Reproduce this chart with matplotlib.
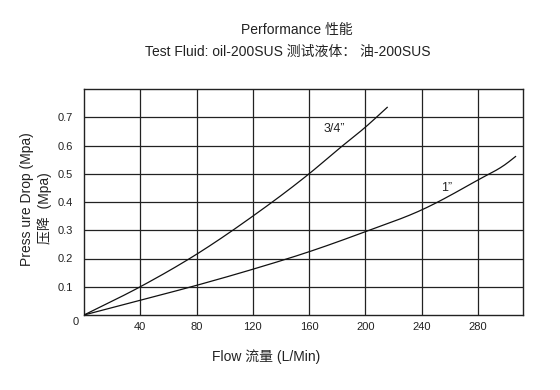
import matplotlib.pyplot as plt
import numpy as np

plt.rcParams['font.family'] = ['Liberation Sans', 'Noto Sans CJK SC', 'DejaVu Sans']
plt.rcParams['text.color'] = '#222222'
plt.rcParams['xtick.color'] = '#222222'
plt.rcParams['ytick.color'] = '#222222'

# 3/4" curve
flow_34 = [0, 40, 80, 120, 160, 183, 200, 215.5]
drop_34 = [0, 0.10, 0.215, 0.35, 0.50, 0.596, 0.665, 0.735]

# 1" curve
flow_1 = [0, 40, 80, 120, 160, 200, 240, 280, 300, 306.7]
drop_1 = [0, 0.052, 0.105, 0.162, 0.224, 0.295, 0.372, 0.478, 0.535, 0.561]

xticks = [40, 80, 120, 160, 200, 240, 280]
yticks = [0.1, 0.2, 0.3, 0.4, 0.5, 0.6, 0.7]


def smooth(x, y, n=200):
    # monotone piecewise cubic through the read points
    x = np.asarray(x, float)
    y = np.asarray(y, float)
    h = np.diff(x)
    d = np.diff(y) / h
    m = np.zeros_like(y)
    m[0] = d[0]
    m[-1] = d[-1]
    for i in range(1, len(y) - 1):
        m[i] = (d[i - 1] * h[i] + d[i] * h[i - 1]) / (h[i] + h[i - 1])
    xs = np.linspace(x[0], x[-1], n)
    k = np.clip(np.searchsorted(x, xs) - 1, 0, len(x) - 2)
    t = (xs - x[k]) / h[k]
    h00 = 2 * t**3 - 3 * t**2 + 1
    h10 = t**3 - 2 * t**2 + t
    h01 = -2 * t**3 + 3 * t**2
    h11 = t**3 - t**2
    ys = h00 * y[k] + h10 * h[k] * m[k] + h01 * y[k + 1] + h11 * h[k] * m[k + 1]
    return xs, ys


fig = plt.figure(figsize=(5.6, 3.9), dpi=100)
ax = fig.add_axes([84 / 560, 1 - 315 / 390, (523 - 84) / 560, (315 - 89) / 390])

ax.set_xlim(0, 312)
ax.set_ylim(0, 0.8)

for xv in xticks:
    ax.axvline(xv, color='#222222', lw=0.9, zorder=1)
for yv in yticks:
    ax.axhline(yv, color='#222222', lw=0.9, zorder=1)

xs, ys = smooth(flow_34, drop_34)
ax.plot(xs, ys, color='#111111', lw=0.9, zorder=3)
xs, ys = smooth(flow_1, drop_1)
ax.plot(xs, ys, color='#111111', lw=0.9, zorder=3)

ax.text(178, 0.66, '3/4”', fontsize=9, ha='center', va='center')
ax.text(258, 0.45, '1”', fontsize=9, ha='center', va='center')

ax.set_xticks(xticks)
ax.set_yticks(yticks)
ax.set_xticklabels([str(v) for v in xticks], fontsize=8)
ax.set_yticklabels([f'{v:.1f}' for v in yticks], fontsize=8)
ax.tick_params(length=0, pad=5)
ax.tick_params(axis='y', pad=8)
for s in ax.spines.values():
    s.set_color('#222222')
    s.set_linewidth(1.0)

fig.text(76 / 560, 1 - 322 / 390, '0', fontsize=8, ha='center', va='center')

fig.text(297 / 560, 1 - 30 / 390, 'Performance 性能', fontsize=10, ha='center', va='center')
fig.text(288 / 560, 1 - 52 / 390, 'Test Fluid: oil-200SUS 测试液体： 油-200SUS',
         fontsize=10, ha='center', va='center')

fig.text(27 / 560, 1 - 199 / 390, 'Press ure Drop (Mpa)', fontsize=10,
         rotation=90, ha='center', va='center')
fig.text(45 / 560, 1 - 208 / 390, '压降  (Mpa)', fontsize=10,
         rotation=90, ha='center', va='center')
fig.text(266 / 560, 1 - 357 / 390, 'Flow 流量 (L/Min)', fontsize=10,
         ha='center', va='center')

fig.savefig('out.png', dpi=100, facecolor='white')
